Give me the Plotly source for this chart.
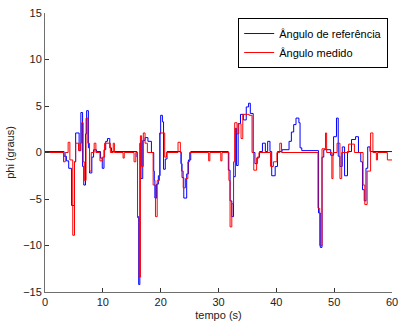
import plotly.graph_objects as go

# Reference angle (blue) - step series
t_ref = [0.0, 3.3, 3.7, 4.1, 4.6, 5.1, 5.3, 5.9, 6.2, 6.5, 6.7, 7.0, 7.2, 7.5, 7.7, 8.1, 8.4, 8.9,
         9.6, 9.9, 10.2, 10.5, 10.8, 11.2, 11.5, 15.9, 16.0, 16.2, 16.4, 16.6, 16.9, 17.3, 17.8,
         18.4, 18.8, 18.9, 19.0, 19.3, 19.6, 19.9, 20.0, 20.3, 20.5, 20.8, 21.1, 23.5, 23.7, 24.0,
         24.5, 24.8, 25.2, 31.7, 32.0, 32.3, 32.6, 32.9, 33.1, 33.4, 33.8, 34.3, 34.8, 35.2, 35.5,
         36.0, 36.3, 36.7, 37.1, 37.6, 38.1, 38.5, 38.9, 39.2, 39.8, 40.2, 41.0, 42.2, 42.6, 43.0,
         43.4, 43.9, 44.1, 44.4, 47.3, 47.6, 47.9, 48.2, 49.4, 49.9, 50.4, 50.7, 51.0, 51.4, 51.8,
         52.3, 53.0, 53.7, 54.2, 54.6, 54.9, 55.2, 55.5, 55.8, 56.2, 60.0]
phi_ref = [0.1, -0.4, -0.9, -1.7, -5.7, -1.0, 2.1, 0.2, 4.3, -1.5, -3.5, 2.0, 4.5, 0.5, -2.2, -0.5, 0.3, 0.1,
           -0.6, -1.7, 0.3, 1.2, 1.5, 0.5, 0.1, -0.5, -6.9, -14.2, 1.0, -2.8, 1.3, 1.6, 1.2,
           0.0, -2.0, -3.0, -4.9, -3.4, -2.5, 2.0, 4.0, 3.3, -1.8, -0.7, 0.1, -1.2, -2.7, -4.9,
           -2.3, -0.8, 0.1, -1.9, -5.2, -6.9, -2.6, 2.6, -1.4, 3.1, 4.1, 3.5, 4.9, 5.3, 4.2,
           0.0, -1.2, -0.5, 0.1, 1.0, 0.1, 1.2, 0.1, -2.5, -1.5, 0.1, 0.3, 1.2, 2.2, 3.0,
           3.7, 3.2, 0.5, 0.2, -6.5, -10.2, -0.5, 0.3, -0.3, 1.7, 3.7, -0.4, -1.5, 0.6, -2.5,
           0.1, 1.4, 1.7, 0.0, -1.0, -4.0, -5.2, -1.7, 0.6, 0.1, 0.1]

# Measured angle (red) - step series
t_med = [0.0, 3.2, 3.5, 4.0, 4.3, 4.8, 5.1, 5.3, 5.8, 6.1, 6.3, 6.6, 6.8, 7.1, 7.4, 7.7, 8.0, 8.5,
         8.8, 9.5, 9.9, 10.3, 10.9, 11.3, 11.8, 12.0, 13.5, 13.7, 15.4, 15.7, 16.0, 16.3, 16.5,
         16.7, 17.0, 17.3, 17.7, 18.7, 19.1, 19.4, 19.8, 20.4, 20.7, 21.0, 23.0, 23.4, 23.6, 23.9,
         24.3, 24.7, 25.0, 28.3, 28.5, 30.4, 30.6, 31.8, 32.0, 32.3, 32.6, 32.8, 33.2, 33.5, 33.9,
         34.2, 35.3, 35.8, 36.1, 36.6, 37.0, 39.0, 39.5, 40.1, 40.6, 40.9, 47.2, 47.5, 47.9, 48.5,
         48.7, 49.6, 49.8, 50.5, 51.0, 51.3, 52.5, 53.5, 55.0, 55.3, 55.7, 56.3, 56.7, 57.3, 57.5,
         59.2, 60.0]
phi_med = [0.0, -1.0, 0.0, 1.1, -0.8, -8.9, -1.0, 1.0, 0.2, 1.0, 3.2, -1.0, -3.0, 3.7, 1.0, -2.0, 0.0, 1.0,
           0.0, -0.9, -0.5, 1.0, 1.0, 0.0, 1.0, 0.0, -0.6, 0.0, -1.0, 0.0, -7.0, -13.4, 1.8,
           -1.5, 2.1, 1.0, 0.0, -3.5, -6.9, -3.0, 2.1, 2.1, -0.5, 0.0, 1.1, 0.0, -2.0, -3.8,
           -2.8, -1.0, 0.0, -0.9, 0.0, -0.9, 0.0, -3.0, -8.0, -5.5, -1.0, 3.2, 2.0, 3.1, 1.5,
           4.1, 4.0, 0.0, -1.9, -0.6, 0.0, -1.5, -1.0, 0.0, 1.0, 0.0, -6.0, -10.0, 0.4, 2.1,
           0.0, -2.8, 0.0, 1.0, -2.8, 0.0, 0.9, 0.0, -3.5, -5.6, -2.0, 2.1, 0.0, -0.8, 0.0,
           -0.8, -0.8]

x_ticks = [0, 10, 20, 30, 40, 50, 60]
y_ticks = [-15, -10, -5, 0, 5, 10, 15]

font_family = "Liberation Sans, Arial, sans-serif"

fig = go.Figure()
fig.add_trace(go.Scatter(x=t_ref, y=phi_ref, mode="lines", line=dict(color="#0000ff", width=1, shape="hv"),
                         name="Ângulo de referência"))
fig.add_trace(go.Scatter(x=t_med, y=phi_med, mode="lines", line=dict(color="#ff0000", width=1, shape="hv"),
                         name="Ângulo medido"))

axis_common = dict(showgrid=False, zeroline=False, showline=True, linecolor="#6f6f6f", linewidth=1,
                   ticks="inside", ticklen=4, tickcolor="#333333", mirror=False,
                   ticklabeloverflow="allow",
                   tickfont=dict(family=font_family, size=11, color="#222222"))

fig.update_layout(
    width=401, height=324,
    margin=dict(l=45, r=3, t=13, b=32),
    paper_bgcolor="white", plot_bgcolor="white",
    font=dict(family=font_family, size=11, color="#222222"),
    xaxis=dict(range=[0, 60], tickvals=x_ticks, title=dict(text="tempo (s)", standoff=4,
               font=dict(family=font_family, size=11)), **axis_common),
    yaxis=dict(range=[-15, 15], tickvals=y_ticks, title=dict(text="phi (graus)", standoff=6,
               font=dict(family=font_family, size=11)), **axis_common),
    legend=dict(x=0.989, y=0.982, xanchor="right", yanchor="top", bgcolor="white",
                bordercolor="#000000", borderwidth=1, font=dict(family=font_family, size=11, color="#000000"),
                tracegroupgap=0, itemwidth=30),
    showlegend=True,
)

fig.write_html("out.html")
